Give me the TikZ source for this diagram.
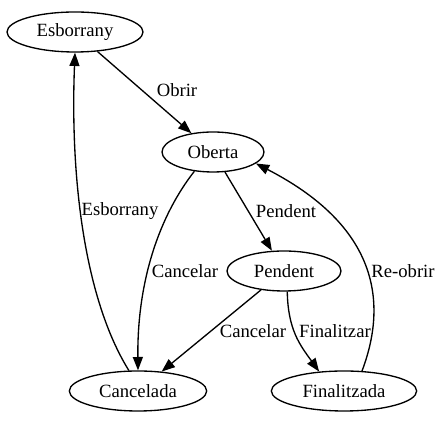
\documentclass[tikz,border=0pt]{standalone}
\usepackage{fontspec}
\setmainfont{Liberation Serif}
\usepackage{tikz}
\usetikzlibrary{arrows.meta,shapes.geometric}

\begin{document}
\begin{tikzpicture}[
          x=0.75pt, y=-0.75pt,
          font=\fontsize{14}{16}\selectfont,
          estat/.style={ellipse, draw=black, line width=1pt, inner sep=0pt, minimum height=30pt},
          etq/.style={inner sep=1pt},
          fl/.style={-{Triangle[length=10pt,width=7.5pt]}, draw=black, line width=1pt}
        ]
        \useasboundingbox (0,0) rectangle (444,423);
        % estats
        \node[estat, minimum width=102pt] (esborrany) at (75,32) {Esborrany};
        \node[estat, minimum width=76.5pt] (oberta) at (213,152) {Oberta};
        \node[estat, minimum width=85.5pt] (pendent) at (284,271) {Pendent};
        \node[estat, minimum width=103pt] (cancelada) at (138,391) {Cancelada};
        \node[estat, minimum width=109pt] (finalitzada) at (344,391) {Finalitzada};
        % transicions
        \draw[fl] (esborrany) -- (oberta);
        \draw[fl] (oberta) -- (pendent);
        \draw[fl] (pendent) -- (cancelada);
        \draw[fl] (oberta.226) .. controls (160,215) and (137,280) .. (cancelada.north);
        \draw[fl] (cancelada.114) .. controls (85,300) and (70,180) .. (esborrany.south);
        \draw[fl] (pendent.-81) .. controls (288,330) and (300,345) .. (finalitzada.142);
        \draw[fl] (finalitzada.48) .. controls (385,310) and (385,230) .. (oberta.-15);
        % etiquetes
        \node[etq] (e-obrir) at (177,90) {Obrir};
        \node[etq] (e-pendent) at (286,211) {Pendent};
        \node[etq] (e-esborrany) at (120,211) {Esborrany};
        \node[etq] (e-cancelar1) at (185,271) {Cancelar};
        \node[etq] (e-reobrir) at (403,271) {Re-obrir};
        \node[etq] (e-cancelar2) at (253,331) {Cancelar};
        \node[etq] (e-finalitzar) at (335,331) {Finalitzar};
      \end{tikzpicture}
\end{document}
